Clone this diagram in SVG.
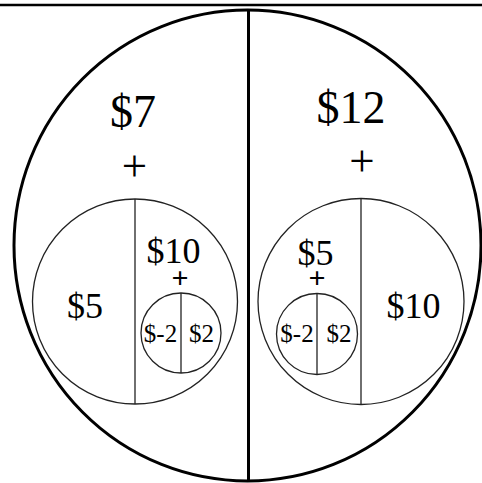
<svg xmlns="http://www.w3.org/2000/svg" width="482" height="483" viewBox="0 0 482 483">
<style>
.thick{fill:none;stroke:#000;stroke-width:3}
.thin{fill:none;stroke:#222;stroke-width:1.3}
text{font-family:"Liberation Serif","Times New Roman",serif;fill:#000;text-anchor:middle}
.big{font-size:46px}
.mid{font-size:36px}
.sm{font-size:25px}
.plus{font-size:45px}
.plusb{font-size:30px;font-weight:bold}
</style>
<rect width="482" height="483" fill="#fff"/>
<line x1="0" y1="5" x2="482" y2="5" stroke="#000" stroke-width="2.5"/>
<g id="outer">
<ellipse class="thick" cx="247.5" cy="245.5" rx="233.5" ry="235.5"/>
<text class="big" x="133" y="127">$7</text>
<text class="plus" x="134.5" y="181">+</text>
<text class="big" x="351" y="123">$12</text>
<text class="plus" x="362" y="176">+</text>
</g>
<g id="left-circle">
<circle class="thin" cx="135" cy="301.5" r="102.5"/>
<text class="mid" x="85" y="318">$5</text>
<text class="mid" x="173.5" y="263">$10</text>
<text class="plusb" x="180" y="288">+</text>
</g>
<g id="left-small">
<circle class="thin" cx="181" cy="333" r="40"/>
<text class="sm" x="160.5" y="342">$-2</text>
<text class="sm" x="201.5" y="342">$2</text>
</g>
<g id="right-circle">
<circle class="thin" cx="361" cy="301.5" r="103"/>
<text class="mid" x="315.5" y="265">$5</text>
<text class="mid" x="413.5" y="318">$10</text>
<text class="plusb" x="317" y="288">+</text>
</g>
<g id="right-small">
<circle class="thin" cx="317" cy="334" r="40.5"/>
<text class="sm" x="297" y="342">$-2</text>
<text class="sm" x="339" y="342">$2</text>
</g>
<g id="connectors">
<line x1="248.5" y1="10" x2="248.5" y2="481" stroke="#000" stroke-width="3"/>
<line class="thin" x1="135" y1="199" x2="135" y2="404"/>
<line class="thin" x1="361" y1="198.5" x2="361" y2="404.5"/>
<line class="thin" x1="181" y1="293" x2="181" y2="373"/>
<line class="thin" x1="317" y1="293.5" x2="317" y2="374.5"/>
</g>
</svg>
